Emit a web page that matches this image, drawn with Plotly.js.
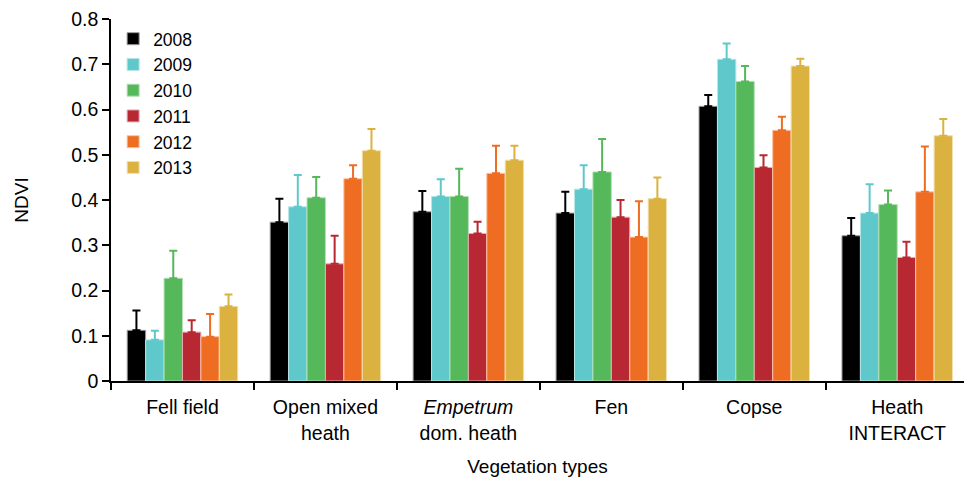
<!DOCTYPE html>
<html>
<head>
<meta charset="utf-8">
<script src="https://cdn.plot.ly/plotly-3.0.1.min.js"></script>
<style>html,body{margin:0;padding:0;background:#fff;}#chart{width:964px;height:479px;}</style>
</head>
<body>
<div id="chart"></div>
<script>
const categories = ["Fell field", "Open mixed heath", "Empetrum dom. heath", "Fen", "Copse", "Heath INTERACT"];
const tickLabels = ["Fell field", "Open mixed<br>heath", "<i>Empetrum</i><br>dom. heath", "Fen", "Copse", "Heath<br>INTERACT"];
const years = ["2008", "2009", "2010", "2011", "2012", "2013"];

const ndvi2008 = [0.112, 0.351, 0.374, 0.371, 0.607, 0.321];
const ndvi2009 = [0.091, 0.385, 0.408, 0.424, 0.711, 0.371];
const ndvi2010 = [0.227, 0.405, 0.408, 0.462, 0.662, 0.390];
const ndvi2011 = [0.108, 0.259, 0.326, 0.362, 0.472, 0.273];
const ndvi2012 = [0.098, 0.447, 0.459, 0.318, 0.554, 0.418];
const ndvi2013 = [0.165, 0.509, 0.488, 0.403, 0.696, 0.542];

const err2008 = [0.044, 0.052, 0.046, 0.047, 0.025, 0.039];
const err2009 = [0.020, 0.070, 0.038, 0.053, 0.035, 0.064];
const err2010 = [0.061, 0.046, 0.061, 0.073, 0.034, 0.031];
const err2011 = [0.026, 0.062, 0.026, 0.038, 0.027, 0.035];
const err2012 = [0.050, 0.030, 0.061, 0.079, 0.030, 0.100];
const err2013 = [0.026, 0.048, 0.032, 0.047, 0.016, 0.037];

const values = [ndvi2008, ndvi2009, ndvi2010, ndvi2011, ndvi2012, ndvi2013];
const errors = [err2008, err2009, err2010, err2011, err2012, err2013];
const colors = ["#000000", "#5fc8cb", "#55b85a", "#b82832", "#ef6c23", "#dbb240"];
const edges  = ["#9a9a9a", "#b8e6e7", "#b3e0b5", "#e6aeb2", "#f9c4a6", "#f1e0b0"];

const FONT = "Liberation Sans, Arial, Helvetica, sans-serif";

const traces = years.map((y, i) => ({
  type: "bar",
  name: y,
  x: categories,
  y: values[i],
  marker: { color: colors[i], line: { color: edges[i], width: 1 } },
  error_y: {
    type: "data", symmetric: false,
    array: errors[i], arrayminus: errors[i].map(() => 0),
    color: colors[i], thickness: 2, width: 4
  }
}));

const layout = {
  width: 964, height: 479,
  margin: { l: 111, r: 0, t: 19, b: 98 },
  paper_bgcolor: "#fff", plot_bgcolor: "#fff",
  font: { family: FONT, size: 19, color: "#000" },
  barmode: "group", bargap: 0.227, bargroupgap: 0,
  showlegend: true,
  legend: {
    x: 0.0025, y: 0.995, xanchor: "left", yanchor: "top",
    bgcolor: "rgba(0,0,0,0)", font: { family: FONT, size: 17.5, color: "#000" },
    tracegroupgap: 0
  },
  xaxis: {
    type: "category",
    categoryorder: "array", categoryarray: categories,
    tickmode: "array", tickvals: categories, ticktext: tickLabels,
    range: [-0.5, 5.467],
    tickson: "boundaries",
    ticks: "outside", ticklen: 7, tickwidth: 1.5, tickcolor: "#000",
    ticklabelstandoff: 8,
    showline: true, linecolor: "#000", linewidth: 1.5,
    showgrid: false, zeroline: false,
    tickfont: { family: FONT, size: 19.5, color: "#000" },
    title: { text: "Vegetation types", font: { family: FONT, size: 19, color: "#000" }, standoff: 17 }
  },
  yaxis: {
    range: [0, 0.8],
    tickmode: "array",
    tickvals: [0, 0.1, 0.2, 0.3, 0.4, 0.5, 0.6, 0.7, 0.8],
    ticktext: ["0", "0.1", "0.2", "0.3", "0.4", "0.5", "0.6", "0.7", "0.8"],
    ticks: "outside", ticklen: 7, tickwidth: 1.5, tickcolor: "#000",
    showline: true, linecolor: "#000", linewidth: 1.5,
    showgrid: false, zeroline: false,
    tickfont: { family: FONT, size: 19.5, color: "#000" },
    title: { text: "NDVI", font: { family: FONT, size: 19, color: "#000" }, standoff: 38 }
  }
};

Plotly.newPlot("chart", traces, layout, { displayModeBar: false, responsive: false });
</script>
</body>
</html>
